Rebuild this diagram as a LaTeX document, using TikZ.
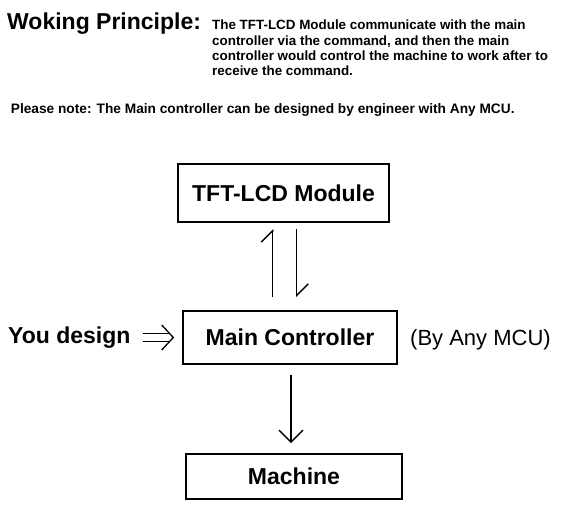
\documentclass[tikz,border=0pt]{standalone}
\usepackage{fontspec}
\setmainfont{Liberation Sans}
\usetikzlibrary{arrows.meta,calc}
\begin{document}
\begin{tikzpicture}[x=1pt,y=-1pt,
  box/.style={draw, line width=1.8pt, inner sep=0pt, font=\fontsize{23}{27}\selectfont\bfseries},
  big/.style={font=\fontsize{23}{27}\selectfont\bfseries, inner sep=0pt, anchor=base west},
  para/.style={font=\fontsize{13.4}{15.5}\selectfont\bfseries, inner sep=0pt, anchor=base west},
  harp/.style={line width=1.4pt, -{Straight Barb[left,length=11.5pt,width=23pt]}},
  arr/.style={line width=1.4pt, -{Straight Barb[length=12pt,width=24pt]}},
  imp/.style={line width=1.3pt}
]
\useasboundingbox (0,0) rectangle (563,531);
% heading texts
\node[big] (title) at (7,29) {Woking Principle:};
\node[para] (p1) at (212,29) {The TFT-LCD Module communicate with the main};
\node[para] (p2) at (212,45) {controller via the command, and then the main};
\node[para] (p3) at (212,60) {controller would control the machine to work after to};
\node[para] (p4) at (212,75) {receive the command.};
\node[font=\fontsize{13.7}{16}\selectfont\bfseries, inner sep=0pt, anchor=base west] (note) at (10.7,113)
  {Please note: The Main controller can be designed by engineer with Any MCU.};
% boxes
\node[box, minimum width=211pt, minimum height=58pt] (tft) at (283.5,193) {TFT-LCD Module};
\node[box, minimum width=214pt, minimum height=53pt] (main) at (290,337.5) {Main Controller};
\node[box, minimum width=216pt, minimum height=45pt] (mach) at (294,476.5) {Machine};
% side texts
\node[big] (you) at (8,343) {You design};
\node[font=\fontsize{22}{26}\selectfont, inner sep=0pt, anchor=base west] (mcu) at (410,345) {(By Any MCU)};
% harpoons
\coordinate (hx1) at (272.7,0);
\coordinate (hx2) at (296.7,0);
\coordinate (ax) at (291,0);
\draw[harp, shorten <=13pt, shorten >=6pt] (main.north -| hx1) -- (tft.south -| hx1);
\draw[harp, shorten <=6pt, shorten >=13pt] (tft.south -| hx2) -- (main.north -| hx2);
\draw[arr, shorten <=10pt, shorten >=10pt] (main.south -| ax) -- (mach.north -| ax);
% implies arrow
\coordinate (ia) at (142.7,337.5);
\draw[imp] ($(ia)+(0,-4.2)$) -- ++(27.3,0);
\draw[imp] ($(ia)+(0,4.2)$) -- ++(27.3,0);
\draw[imp, line join=miter] ($(ia)+(19,-12.5)$) -- ($(ia)+(30.6,0)$) -- ($(ia)+(19,12.5)$);
\end{tikzpicture}
\end{document}
